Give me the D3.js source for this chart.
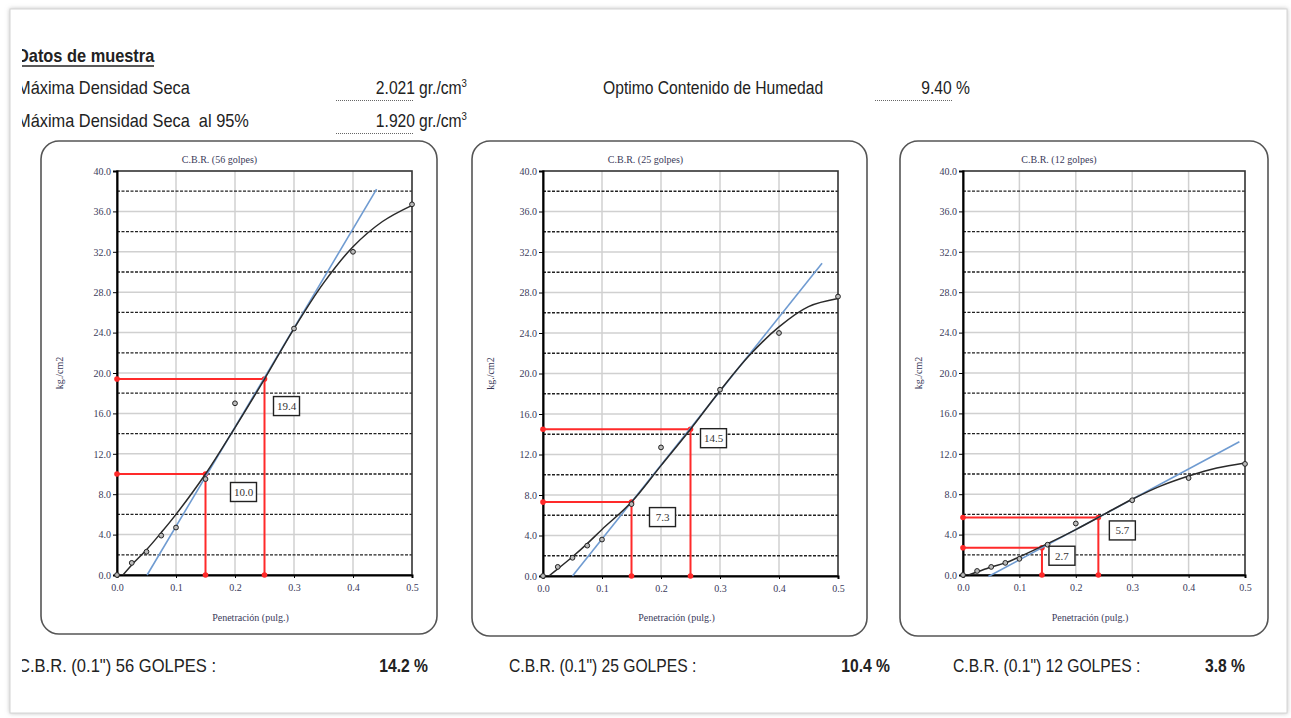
<!DOCTYPE html>
<html>
<head>
<meta charset="utf-8">
<script src="https://cdn.jsdelivr.net/npm/d3@7"></script>
<style>
  html, body { margin: 0; padding: 0; background: #fff; }
  svg { display: block; }
</style>
</head>
<body>
<div class="chart-area"></div>
<script>
// CBR test sheet: three load / penetration charts

// ---- Data ----
const penetration = [0, 0.025, 0.05, 0.075, 0.1, 0.15, 0.2, 0.3, 0.4, 0.5];
const load56 = [0, 1.2, 2.3, 3.9, 4.7, 9.5, 17.0, 24.4, 32.0, 36.7];
const load25 = [0, 0.9, 1.8, 3.0, 3.6, 7.1, 12.7, 18.4, 24.0, 27.6];
const load12 = [0, 0.4, 0.8, 1.2, 1.6, 3.0, 5.1, 7.4, 9.6, 11.0];

// fitted curve (black)
const curvePen = [0.01, 0.025, 0.05, 0.075, 0.1, 0.15, 0.2, 0.25, 0.3, 0.35, 0.4, 0.45, 0.5];
const curve56 = [0, 1.0, 2.5, 4.2, 6.0, 10.0, 14.6, 19.4, 24.4, 28.9, 32.5, 35.0, 36.6];
const curve25 = [0, 0.7, 1.9, 3.2, 4.6, 7.3, 10.9, 14.5, 18.3, 21.8, 24.6, 26.6, 27.4];
const curve12 = [0, 0.3, 0.8, 1.2, 1.8, 3.1, 4.5, 6.0, 7.5, 8.8, 9.8, 10.6, 11.1];

// corrected tangent (blue): start / end
const tangentPen56 = [0.051, 0.44], tangentLoad56 = [0, 38.2];
const tangentPen25 = [0.05, 0.473], tangentLoad25 = [0, 30.9];
const tangentPen12 = [0.045, 0.49], tangentLoad12 = [-0.15, 13.2];

// read values (red) at 0.1" and 0.2" (corrected)
const readPen56 = [0.15, 0.25], readLoad56 = [10.0, 19.4];
const readPen25 = [0.15, 0.25], readLoad25 = [7.3, 14.5];
const readPen12 = [0.14, 0.24], readLoad12 = [2.7, 5.7];

const golpes = [56, 25, 12];
const cbrResults = [14.2, 10.4, 3.8];

const xTicks = [0, 0.1, 0.2, 0.3, 0.4, 0.5];
const yTicks = [0, 4, 8, 12, 16, 20, 24, 28, 32, 36, 40];
const yDashed = [2, 6, 10, 14, 18, 22, 26, 30, 34, 38];

// ---- Layout ----
const W = 1291, H = 718;
const sans = "'Liberation Sans', Arial, sans-serif";
const serif = "'Liberation Serif', 'Times New Roman', serif";
const squeeze = 0.87;

const panels = [
  { box: [41, 141, 396, 493], plot: [117, 171, 412, 575], labelOff: [[38, 18], [22, 27]],
    points: load56, curve: curve56, tp: tangentPen56, tl: tangentLoad56, rp: readPen56, rl: readLoad56 },
  { box: [472, 141, 395, 495], plot: [543, 171, 838, 576], labelOff: [[31, 15], [23, 9]],
    points: load25, curve: curve25, tp: tangentPen25, tl: tangentLoad25, rp: readPen25, rl: readLoad25 },
  { box: [900, 141, 368, 495], plot: [963, 171, 1245, 575], labelOff: [[20, 8], [24, 13]],
    points: load12, curve: curve12, tp: tangentPen12, tl: tangentLoad12, rp: readPen12, rl: readLoad12 }
];

const svg = d3.select(".chart-area").append("svg")
    .attr("width", W)
    .attr("height", H);

const defs = svg.append("defs");
const shadow = defs.append("filter").attr("id", "shadow")
    .attr("x", "-5%").attr("y", "-5%").attr("width", "110%").attr("height", "110%");
shadow.append("feDropShadow").attr("dx", 0).attr("dy", 0)
    .attr("stdDeviation", 2).attr("flood-color", "#999").attr("flood-opacity", 0.6);

defs.append("clipPath").attr("id", "sheet")
  .append("rect").attr("x", 22).attr("y", 10).attr("width", 1264).attr("height", 702);

// page
svg.append("rect")
    .attr("x", 10).attr("y", 9).attr("width", 1277).attr("height", 704)
    .attr("fill", "#fff").attr("stroke", "#d4d4d4")
    .attr("filter", "url(#shadow)");

const sheet = svg.append("g").attr("clip-path", "url(#sheet)");

// narrow sans text helper
function label(g, x, y, str, size, opts = {}) {
  const t = g.append("text")
      .attr("transform", `translate(${x},${y}) scale(${opts.sx || squeeze},1)`)
      .attr("font-family", sans)
      .attr("font-size", size)
      .attr("font-weight", opts.bold ? "bold" : null)
      .attr("text-anchor", opts.anchor || "start")
      .attr("fill", "#222")
      .style("white-space", "pre")
      .text(str);
  return t;
}

function dotted(g, x1, x2, y) {
  g.append("line")
      .attr("x1", x1).attr("x2", x2).attr("y1", y).attr("y2", y)
      .attr("stroke", "#666").attr("stroke-width", 1)
      .attr("stroke-dasharray", "1,1");
}

// ---- Header ----
label(sheet, 17, 62, "Datos de muestra", 18, { bold: true, sx: 0.91 });
sheet.append("line").attr("x1", 17).attr("x2", 154).attr("y1", 66).attr("y2", 66)
    .attr("stroke", "#222").attr("stroke-width", 1.3);

label(sheet, 17, 94, "Máxima Densidad Seca", 18, { sx: 0.91 });
label(sheet, 17, 127, "Máxima Densidad Seca  al 95%", 18, { sx: 0.91 });

label(sheet, 415, 94, "2.021", 18, { anchor: "end" });
label(sheet, 415, 127, "1.920", 18, { anchor: "end" });
[94, 127].forEach(y => {
  const u = label(sheet, 419, y, "gr./cm", 18);
  u.append("tspan").attr("font-size", 11).attr("dy", -7).text("3");
});
dotted(sheet, 336, 413, 100.5);
dotted(sheet, 336, 413, 133.5);

label(sheet, 603, 94, "Optimo Contenido de Humedad", 18);
label(sheet, 970, 94, "9.40 %", 18, { anchor: "end" });
dotted(sheet, 875, 953, 100.5);

// ---- Panels ----
const fmt = d3.format(".1f");

panels.forEach((p, i) => {
  const [bx, by, bw, bh] = p.box;
  const [x0, y0, x1, y1] = p.plot;

  sheet.append("rect")
      .attr("x", bx).attr("y", by).attr("width", bw).attr("height", bh)
      .attr("rx", 18).attr("ry", 18)
      .attr("fill", "#fff").attr("stroke", "#555").attr("stroke-width", 1.6);

  const x = d3.scaleLinear().domain([0, 0.5]).range([x0, x1]);
  const y = d3.scaleLinear().domain([0, 40]).range([y1, y0]);
  const g = sheet.append("g");

  // grid
  g.selectAll("line.vgrid")
    .data(xTicks.slice(1, -1))
    .join("line")
      .attr("class", "vgrid")
      .attr("x1", d => x(d)).attr("x2", d => x(d))
      .attr("y1", y0).attr("y2", y1)
      .attr("stroke", "#d0d0d0").attr("stroke-width", 1.5);

  g.selectAll("line.hgrid")
    .data(yTicks.slice(1, -1))
    .join("line")
      .attr("class", "hgrid")
      .attr("x1", x0).attr("x2", x1)
      .attr("y1", d => y(d)).attr("y2", d => y(d))
      .attr("stroke", "#d0d0d0").attr("stroke-width", 1.5);

  g.selectAll("line.dash")
    .data(yDashed)
    .join("line")
      .attr("class", "dash")
      .attr("x1", x0).attr("x2", x1)
      .attr("y1", d => y(d)).attr("y2", d => y(d))
      .attr("stroke", "#222").attr("stroke-width", 1.3)
      .attr("stroke-dasharray", "3,1.5");

  // frame
  g.append("rect")
      .attr("x", x0).attr("y", y0).attr("width", x1 - x0).attr("height", y1 - y0)
      .attr("fill", "none").attr("stroke", "#333").attr("stroke-width", 1.6);

  // axes
  const yAxis = g.append("g")
      .attr("transform", `translate(${x0},0)`)
      .call(d3.axisLeft(y).tickValues(yTicks).tickFormat(fmt).tickSize(4).tickPadding(2));
  const xAxis = g.append("g")
      .attr("transform", `translate(0,${y1})`)
      .call(d3.axisBottom(x).tickValues(xTicks).tickFormat(fmt).tickSize(3).tickPadding(6));
  [yAxis, xAxis].forEach(a => {
    a.select(".domain").attr("stroke", "#000").attr("stroke-width", 2);
    a.selectAll(".tick line").attr("stroke", "#000");
    a.selectAll("text").attr("font-family", serif).attr("font-size", 10).attr("fill", "#3a3a5a");
  });

  // titles
  const cx = (x0 + x1) / 2;
  g.append("text")
      .attr("x", cx - 45).attr("y", 163)
      .attr("text-anchor", "middle")
      .attr("font-family", serif).attr("font-size", 10).attr("fill", "#3a3a5a")
      .text(`C.B.R. (${golpes[i]} golpes)`);
  g.append("text")
      .attr("x", cx - 14).attr("y", 621)
      .attr("text-anchor", "middle")
      .attr("font-family", serif).attr("font-size", 10).attr("fill", "#3a3a5a")
      .text("Penetración (pulg.)");
  g.append("text")
      .attr("transform", `translate(${bx + 22},${(y0 + y1) / 2}) rotate(-90)`)
      .attr("text-anchor", "middle")
      .attr("font-family", serif).attr("font-size", 10).attr("fill", "#3a3a5a")
      .text("kg./cm2");

  // red reading lines
  const red = "#ff2a2a";
  p.rp.forEach((pv, k) => {
    const lv = p.rl[k];
    g.append("path")
        .attr("d", `M${x(0)},${y(lv)}H${x(pv)}V${y(0)}`)
        .attr("fill", "none").attr("stroke", red).attr("stroke-width", 2);
    g.selectAll(null)
      .data([[0, lv], [pv, lv], [pv, 0]])
      .join("circle")
        .attr("cx", d => x(d[0])).attr("cy", d => y(d[1]))
        .attr("r", 2.8).attr("fill", red);
  });

  // tangent (blue)
  g.append("line")
      .attr("x1", x(p.tp[0])).attr("y1", y(p.tl[0]))
      .attr("x2", x(p.tp[1])).attr("y2", y(p.tl[1]))
      .attr("stroke", "#6f9bd1").attr("stroke-width", 1.6);

  // fitted curve
  const line = d3.line()
      .x((d, k) => x(curvePen[k]))
      .y(d => y(d))
      .curve(d3.curveCatmullRom);
  g.append("path")
      .attr("d", line(p.curve))
      .attr("fill", "none").attr("stroke", "#2a2a2a").attr("stroke-width", 1.5);

  // measured points
  g.selectAll("circle.pt")
    .data(p.points)
    .join("circle")
      .attr("class", "pt")
      .attr("cx", (d, k) => x(penetration[k]))
      .attr("cy", d => y(d))
      .attr("r", 2.4)
      .attr("fill", "#bbb").attr("stroke", "#222").attr("stroke-width", 1);

  // value boxes
  p.rp.forEach((pv, k) => {
    const lv = p.rl[k];
    const bxc = x(pv) + p.labelOff[k][0];
    const byc = y(lv) + p.labelOff[k][1];
    g.append("rect")
        .attr("x", bxc - 13).attr("y", byc - 9.5)
        .attr("width", 26).attr("height", 19)
        .attr("fill", "#fff").attr("stroke", "#222").attr("stroke-width", 1.4);
    g.append("text")
        .attr("x", bxc).attr("y", byc + 4)
        .attr("text-anchor", "middle")
        .attr("font-family", serif).attr("font-size", 11).attr("fill", "#333")
        .text(fmt(lv));
  });
});

// ---- Results row ----
const resultX = [18, 509, 953];
const resultEnd = [428, 890, 1245];
golpes.forEach((gp, i) => {
  label(sheet, resultX[i], 672, `C.B.R. (0.1") ${gp} GOLPES :`, 18, { sx: i === 0 ? 0.92 : squeeze });
  label(sheet, resultEnd[i], 672, `${fmt(cbrResults[i])} %`, 18, { bold: true, anchor: "end" });
});
</script>
</body>
</html>
